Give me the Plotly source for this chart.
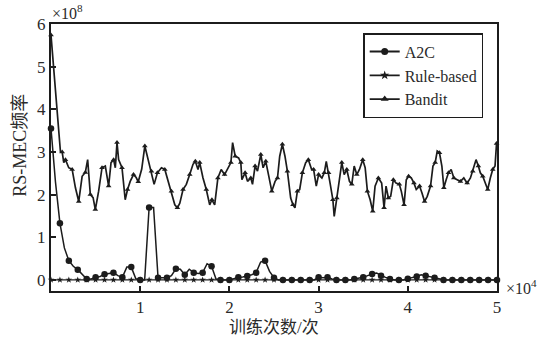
import plotly.graph_objects as go

# ---------------- data (y in units of 1e8, x in training episodes) ----------------
a2c_iters = list(range(0, 50001, 500))
a2c_vals = [3.55, 2.3, 1.33, 0.75, 0.45, 0.32, 0.24, 0.12, 0.02, 0.02,
            0.06, 0.08, 0.13, 0.15, 0.17, 0.1, 0.06, 0.3, 0.3, 0.03,
            0.0, 0.0, 1.7, 1.7, 0.05, 0.05, 0.05, 0.1, 0.26, 0.25,
            0.12, 0.25, 0.17, 0.15, 0.17, 0.38, 0.32, 0.02, 0.0, 0.0,
            0.0, 0.03, 0.06, 0.07, 0.09, 0.12, 0.17, 0.42, 0.45, 0.2,
            0.05, 0.0, 0.0, 0.0, 0.0, 0.0, 0.0, 0.0, 0.0, 0.0,
            0.06, 0.05, 0.06, 0.02, 0.0, 0.0, 0.0, 0.0, 0.02, 0.04,
            0.06, 0.1, 0.14, 0.16, 0.1, 0.06, 0.02, 0.0, 0.0, 0.0,
            0.03, 0.05, 0.08, 0.12, 0.1, 0.08, 0.05, 0.03, 0.0, 0.0,
            0.0, 0.0, 0.0, 0.0, 0.0, 0.0, 0.0, 0.0, 0.0, 0.0, 0.0]

rule_iters = list(range(0, 50001, 1000))
rule_vals = [0.0, 0.0, 0.0, 0.0, 0.0, 0.0, 0.0, 0.0, 0.0, 0.0,
             0.0, 0.0, 0.0, 0.0, 0.0, 0.0, 0.0, 0.0, 0.0, 0.0,
             0.0, 0.0, 0.0, 0.0, 0.0, 0.0, 0.0, 0.0, 0.0, 0.0,
             0.0, 0.0, 0.0, 0.0, 0.0, 0.0, 0.0, 0.0, 0.0, 0.0,
             0.0, 0.0, 0.0, 0.0, 0.0, 0.0, 0.0, 0.0, 0.0, 0.0, 0.0]

bandit_iters = [0, 1060, 1250, 1430, 1620, 1990, 2370, 2740, 3110, 3490,
                3850, 4110, 4410, 4720, 4970, 5340, 5720, 6090, 6460, 6730,
                7020, 7210, 7400, 7580, 7960, 8320, 8580, 8880, 9250, 9550,
                9780, 10170, 10520, 10890, 11260, 11560, 11930, 12380, 12760, 13130,
                13500, 13880, 14170, 14440, 14800, 15170, 15550, 15920, 16180, 16480,
                16670, 17040, 17410, 17790, 18040, 18350, 18710, 19080, 19460, 19830,
                20170, 20360, 20650, 21030, 21280, 21400, 21760, 22030, 22400, 22590,
                22880, 23150, 23520, 23780, 24080, 24380, 24750, 25120, 25390, 25640,
                25940, 26230, 26500, 26870, 27130, 27350, 27620, 27880, 28180, 28550,
                28850, 29220, 29440, 29740, 30000, 30370, 30640, 30860, 31120, 31310,
                31600, 31750, 32040, 32350, 32600, 32870, 33160, 33460, 33720, 33990,
                34280, 34580, 34950, 35220, 35470, 35780, 36070, 36330, 36700, 37070,
                37340, 37560, 37820, 38080, 38380, 38680, 39050, 39270, 39580, 39830,
                40090, 40390, 40690, 40950, 41320, 41590, 41880, 42180, 42550, 42820,
                43070, 43300, 43550, 43820, 44040, 44300, 44560, 44860, 45160, 45530,
                45900, 46280, 46650, 47020, 47280, 47650, 47910, 48130, 48400, 48660,
                48960, 49250, 49520, 49780, 49950]
bandit_vals = [5.74, 3.0, 3.0, 2.75, 2.82, 2.63, 2.59, 2.16, 1.84, 2.43,
               2.52, 2.82, 2.0, 1.93, 1.65, 2.08, 2.63, 2.67, 2.2, 2.75,
               2.82, 2.63, 3.22, 2.82, 2.63, 1.88, 2.12, 2.31, 2.47, 2.4,
               2.3, 2.6, 3.14, 2.82, 2.55, 2.24, 2.51, 2.63, 2.59, 2.31,
               2.08, 1.76, 1.69, 1.8, 2.12, 2.24, 2.47, 2.71, 2.78, 2.59,
               2.75, 2.39, 2.12, 1.76, 1.88, 1.76, 2.39, 2.59, 2.47, 2.63,
               2.75, 3.22, 2.9, 2.86, 2.75, 2.35, 2.51, 2.31, 2.39, 2.24,
               2.67, 2.55, 2.94, 2.63, 2.78, 2.47, 2.08, 2.31, 2.39, 2.9,
               3.18, 2.9, 2.55, 1.92, 1.76, 1.69, 2.08, 2.12, 2.51, 2.75,
               2.82, 2.59, 2.59, 2.2, 2.47, 2.39, 2.51, 2.78, 2.51, 2.24,
               1.88, 1.49, 1.92, 2.35, 2.75, 2.47, 2.59, 2.31, 2.24, 2.67,
               2.47, 2.59, 2.82, 2.63, 2.08, 1.88, 1.61, 2.2, 2.39, 2.27,
               1.69, 2.2, 1.92, 1.96, 2.35, 2.27, 2.24, 2.08, 1.76, 2.35,
               2.43, 2.39, 2.27, 2.12, 2.2, 2.04, 1.84, 1.96, 2.2, 2.67,
               2.75, 3.02, 2.98, 2.67, 2.16, 2.35, 2.51, 2.59, 2.39, 2.35,
               2.31, 2.39, 2.27, 2.39, 2.55, 2.82, 2.67, 2.51, 2.43, 2.27,
               2.12, 2.39, 2.59, 2.67, 3.2]

series_names = ["A2C", "Rule-based", "Bandit"]
x_tick_vals = [10000, 20000, 30000, 40000, 50000]
x_tick_text = ["1", "2", "3", "4", "5"]
y_tick_vals = [0, 1, 2, 3, 4, 5, 6]
y_tick_text = ["0", "1", "2", "3", "4", "5", "6"]

INK = "#1c1c1c"
TXT = "#2a2a2a"
SERIF = "'Times New Roman', 'Liberation Serif', 'DejaVu Serif', serif"
CJK = "'Times New Roman', 'Liberation Serif', 'Noto Sans CJK SC', serif"

fig = go.Figure()

# Bandit
fig.add_trace(go.Scatter(x=bandit_iters, y=bandit_vals, mode="lines",
                         line=dict(color=INK, width=1.7), showlegend=False,
                         hoverinfo="skip"))
fig.add_trace(go.Scatter(x=bandit_iters[::2], y=bandit_vals[::2], mode="markers",
                         marker=dict(symbol="triangle-up", size=5, color=INK),
                         showlegend=False, cliponaxis=False))
# Rule-based
fig.add_trace(go.Scatter(x=rule_iters, y=rule_vals, mode="lines+markers",
                         line=dict(color=INK, width=1.3),
                         marker=dict(symbol="star", size=5, color=INK),
                         showlegend=False, cliponaxis=False))
# A2C
fig.add_trace(go.Scatter(x=a2c_iters, y=a2c_vals, mode="lines",
                         line=dict(color=INK, width=1.5), showlegend=False))
fig.add_trace(go.Scatter(x=a2c_iters[::2], y=a2c_vals[::2], mode="markers",
                         marker=dict(symbol="circle", size=6.5, color=INK),
                         showlegend=False, cliponaxis=False))

# legend entries
leg_symbols = ["circle", "star", "triangle-up"]
for name, sym in zip(series_names, leg_symbols):
    fig.add_trace(go.Scatter(x=[None], y=[None], mode="lines+markers", name=name,
                             line=dict(color=INK, width=1.8),
                             marker=dict(symbol=sym, size=7, color=INK)))

fig.update_layout(
    width=542, height=339,
    margin=dict(l=51, r=45, t=24, b=48),
    paper_bgcolor="white", plot_bgcolor="white",
    showlegend=True,
    legend=dict(x=0.70, y=0.966, xanchor="left", yanchor="top",
                bordercolor=INK, borderwidth=1.5, bgcolor="white",
                font=dict(family=SERIF, size=16, color=TXT),
                tracegroupgap=0, itemwidth=30),
    font=dict(family=SERIF, color=TXT),
)
fig.update_xaxes(range=[0, 50000], tickvals=x_tick_vals, ticktext=x_tick_text,
                 ticks="inside", ticklen=5, tickwidth=1.5, tickcolor=INK,
                 showline=True, linecolor=INK, linewidth=2, mirror=True,
                 showgrid=False, zeroline=False,
                 tickfont=dict(family=SERIF, size=17, color=TXT))
fig.update_yaxes(range=[-0.26, 6], tickvals=y_tick_vals, ticktext=y_tick_text,
                 ticks="inside", ticklen=5, tickwidth=1.5, tickcolor=INK,
                 showline=True, linecolor=INK, linewidth=2, mirror=True,
                 showgrid=False, zeroline=False,
                 tickfont=dict(family=SERIF, size=17, color=TXT))

fig.add_annotation(text="×10<sup>8</sup>", xref="paper", yref="paper", x=-0.002, y=1.0,
                   xanchor="left", yanchor="bottom", showarrow=False,
                   font=dict(family=SERIF, size=16, color=TXT))
fig.add_annotation(text="×10<sup>4</sup>", xref="paper", yref="paper", x=1.015, y=0.015,
                   xanchor="left", yanchor="middle", showarrow=False,
                   font=dict(family=SERIF, size=16, color=TXT))
fig.add_annotation(text="训练次数/次", xref="paper", yref="paper", x=0.5, y=-0.135,
                   xanchor="center", yanchor="middle", showarrow=False,
                   font=dict(family=CJK, size=17, color=TXT))
fig.add_annotation(text="RS-MEC频率", xref="paper", yref="paper", x=-0.07, y=0.547,
                   xanchor="center", yanchor="middle", showarrow=False, textangle=-90,
                   font=dict(family=CJK, size=18, color=TXT))

fig.write_html("out.html")
